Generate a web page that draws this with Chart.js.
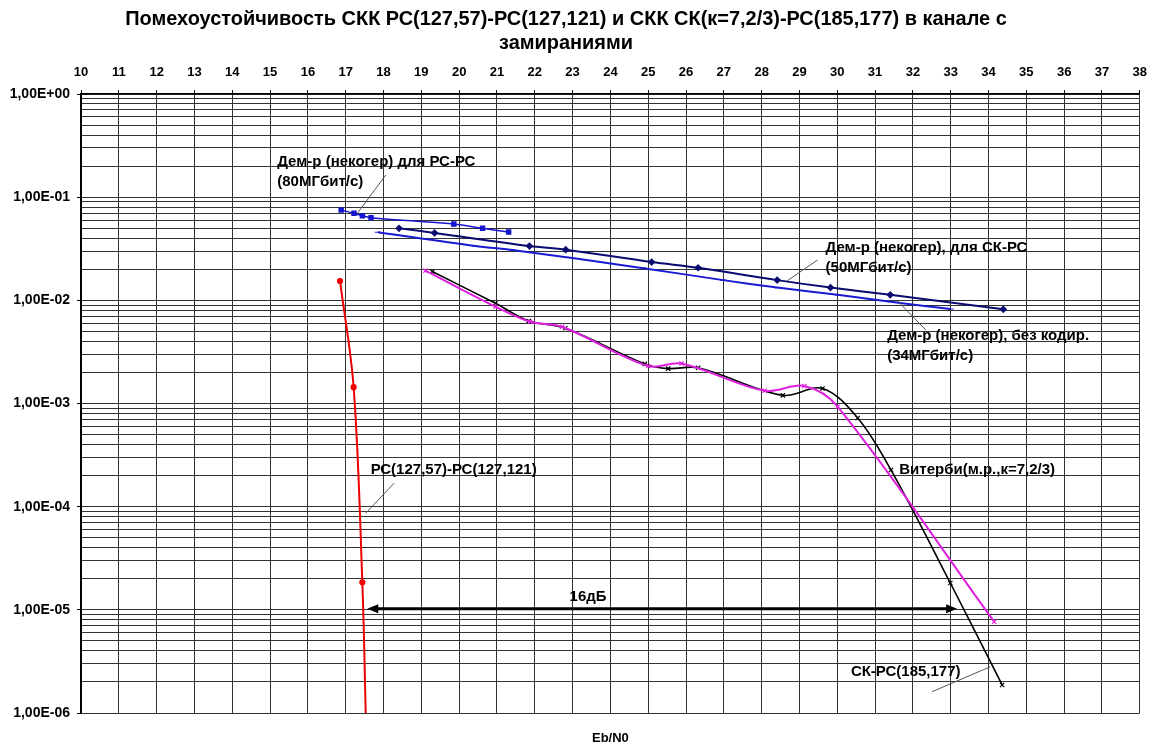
<!DOCTYPE html>
<html><head><meta charset="utf-8">
<script src="https://cdn.jsdelivr.net/npm/chart.js@4"></script>
<style>html,body{margin:0;padding:0;background:#fff}#wrap{width:1157px;height:747px;position:relative}</style>
</head><body><div id="wrap"><canvas id="c"></canvas></div>
<script>
// ---------- texts / tick labels ----------
const titleLines = ['Помехоустойчивость СКК РС(127,57)-РС(127,121) и СКК СК(к=7,2/3)-РС(185,177) в канале с', 'замираниями'];
const xAxisTitle = 'Eb/N0';
const xTickValues = [10,11,12,13,14,15,16,17,18,19,20,21,22,23,24,25,26,27,28,29,30,31,32,33,34,35,36,37,38];
const yDecades = [-6,-5,-4,-3,-2,-1,0];
const yTickLabels = ['1,00E-06','1,00E-05','1,00E-04','1,00E-03','1,00E-02','1,00E-01','1,00E+00'];

// ---------- series ----------
const rsName = 'РС(127,57)-РС(127,121)';
const rsX = [16.85, 17.21, 17.44, 17.53];
const rsY = [0.0154, 0.00144, 0.0000185, 0.000001];

const dem80Name = 'Дем-р (некогер) для РС-РС (80МГбит/с)';
const dem80X = [16.88, 17.22, 17.44, 17.67, 19.86, 20.62, 21.31];
const dem80Y = [0.0751, 0.0698, 0.0661, 0.0632, 0.0549, 0.0499, 0.0459];

const dem50Name = 'Дем-р (некогер), для СК-РС (50МГбит/с)';
const dem50X = [18.41, 19.35, 21.86, 22.82, 25.09, 26.32, 28.41, 29.82, 31.40, 34.39];
const dem50Y = [0.0499, 0.0450, 0.0336, 0.0310, 0.0235, 0.0207, 0.0157, 0.0133, 0.0113, 0.00819];

const dem34Name = 'Дем-р (некогер), без кодир. (34МГбит/с)';
const dem34X = [17.85, 20.43, 21.40, 24.87, 26.98, 28.41, 30.01, 31.51, 33.00];
const dem34Y = [0.0457, 0.0336, 0.0308, 0.0205, 0.0157, 0.0133, 0.0113, 0.00957, 0.00824];

const vitName = 'Витерби(м.р.,к=7,2/3)';
const vitX = [19.11, 20.96, 21.88, 22.72, 25.00, 25.88, 28.08, 29.13, 30.01, 34.15];
const vitY = [0.0194, 0.00868, 0.00620, 0.00555, 0.00231, 0.00244, 0.00133, 0.00148, 0.000931, 0.00000767];

const skName = 'СК-РС(185,177)';
const skX = [19.29, 20.96, 21.84, 22.81, 24.91, 25.53, 26.32, 28.56, 29.61, 30.54, 31.42, 32.99, 34.36];
const skY = [0.0190, 0.00936, 0.00631, 0.00536, 0.00242, 0.00218, 0.00222, 0.00120, 0.00140, 0.000724, 0.000227, 0.0000182, 0.00000187];

const gainLabel = '16дБ';
const gainX = [17.57, 33.17];
const gainY = 0.00001;

// ---------- helpers ----------
const FAM = '"Liberation Sans", Arial, sans-serif';
const pts = (xs, ys) => xs.map((x, i) => ({x, y: ys[i]}));
const isDecade = v => Math.abs(Math.log10(v) - Math.round(Math.log10(v))) < 1e-6;

const yTicks = [];
for (let e = -6; e < 0; e++) for (let m = 1; m <= 9; m++) yTicks.push(m * Math.pow(10, e));
yTicks.push(1);

// annotations (anchored in data units)
const notes = [
  {lines: ['Дем-р (некогер) для РС-РС', '(80МГбит/с)'], x: 15.19, y: 0.219, lead: [[18.06, 0.164], [17.31, 0.0698]]},
  {lines: ['Дем-р (некогер), для СК-РС', '(50МГбит/с)'], x: 29.69, y: 0.0322, lead: [[29.48, 0.0246], [28.68, 0.0155]]},
  {lines: ['Дем-р (некогер), без кодир.', '(34МГбит/с)'], x: 31.32, y: 0.00451, lead: [[32.34, 0.00516], [31.58, 0.0100]]},
  {lines: [vitName], x: 31.64, y: 0.000227, lead: null},
  {lines: [rsName], x: 17.66, y: 0.000227, lead: [[18.28, 0.000169], [17.53, 0.0000863]]},
  {lines: [skName], x: 30.36, y: 0.00000252, lead: [[34.05, 0.00000281], [32.51, 0.00000161]]},
  {lines: [gainLabel], x: 22.92, y: 0.0000133, lead: null}
];

const decorPlugin = {
  id: 'decor',
  afterDatasetsDraw(chart) {
    const {ctx, scales: {x, y}} = chart;
    ctx.save();
    // arrow
    const ax1 = x.getPixelForValue(gainX[0]), ax2 = x.getPixelForValue(gainX[1]), ay = y.getPixelForValue(gainY) - 1;
    ctx.strokeStyle = '#000'; ctx.fillStyle = '#000'; ctx.lineWidth = 3;
    ctx.beginPath(); ctx.moveTo(ax1 + 8, ay); ctx.lineTo(ax2 - 8, ay); ctx.stroke();
    ctx.beginPath(); ctx.moveTo(ax1, ay); ctx.lineTo(ax1 + 11, ay - 4.5); ctx.lineTo(ax1 + 11, ay + 4.5); ctx.closePath(); ctx.fill();
    ctx.beginPath(); ctx.moveTo(ax2, ay); ctx.lineTo(ax2 - 11, ay - 4.5); ctx.lineTo(ax2 - 11, ay + 4.5); ctx.closePath(); ctx.fill();
    // notes
    ctx.font = 'bold 15px ' + FAM;
    ctx.textBaseline = 'middle'; ctx.textAlign = 'left';
    for (const n of notes) {
      if (n.lead) {
        ctx.strokeStyle = '#555'; ctx.lineWidth = 1;
        ctx.beginPath();
        ctx.moveTo(x.getPixelForValue(n.lead[0][0]), y.getPixelForValue(n.lead[0][1]));
        ctx.lineTo(x.getPixelForValue(n.lead[1][0]), y.getPixelForValue(n.lead[1][1]));
        ctx.stroke();
      }
      const px = x.getPixelForValue(n.x), py = y.getPixelForValue(n.y);
      ctx.fillStyle = '#000';
      n.lines.forEach((t, i) => ctx.fillText(t, px, py + i * 20));
    }
    ctx.restore();
  },
  afterDraw(chart) {
    const {ctx, chartArea} = chart;
    ctx.save();
    ctx.fillStyle = '#000';
    ctx.textAlign = 'center'; ctx.textBaseline = 'alphabetic';
    ctx.font = 'bold 18px ' + FAM;
    const w = ctx.measureText(titleLines[0]).width;
    const fs = 18 * 882 / w;
    ctx.font = 'bold ' + fs.toFixed(2) + 'px ' + FAM;
    ctx.fillText(titleLines[0], 566, 25);
    ctx.fillText(titleLines[1], 566, 49);
    ctx.font = 'bold 13px ' + FAM;
    ctx.textBaseline = 'middle';
    ctx.fillText(xAxisTitle, (chartArea.left + chartArea.right) / 2, chartArea.bottom + 25);
    ctx.restore();
  }
};

const lineDs = (label, data, color, width, style, radius, extra) => Object.assign({
  label, data, borderColor: color, backgroundColor: color, borderWidth: width,
  pointStyle: style, pointRadius: radius, pointBorderColor: color, pointBackgroundColor: color,
  pointBorderWidth: 1.2, tension: 0.35, fill: false
}, extra || {});

new Chart(document.getElementById('c'), {
  type: 'line',
  data: {
    datasets: [
      lineDs(dem34Name, pts(dem34X, dem34Y), '#1a1ad0', 2, 'line', 3),
      lineDs(dem50Name, pts(dem50X, dem50Y), '#0a0a70', 2, 'rectRot', 3),
      lineDs(dem80Name, pts(dem80X, dem80Y), '#1515cc', 1.5, 'rect', 3),
      lineDs(vitName, pts(vitX, vitY), '#e020e0', 2, 'crossRot', 3),
      lineDs(skName, pts(skX, skY), '#000000', 1.6, 'crossRot', 3),
      lineDs(rsName, pts(rsX, rsY), '#ee0000', 2, 'circle', ctx => ctx.dataIndex === rsX.length - 1 ? 0 : 2.5)
    ]
  },
  options: {
    responsive: true, maintainAspectRatio: false, animation: false,
    devicePixelRatio: 1,
    layout: {padding: {top: 60, right: 14, bottom: 34, left: 0}},
    plugins: {legend: {display: false}, title: {display: false}, tooltip: {enabled: false}},
    scales: {
      x: {
        type: 'linear', position: 'top', min: 10, max: 38,
        afterBuildTicks: s => { s.ticks = xTickValues.map(v => ({value: v})); },
        afterFit: s => { s.height = 34; },
        ticks: {autoSkip: false, maxRotation: 0, padding: 10, color: '#000', font: {family: FAM, size: 13, weight: 'bold'}, callback: v => String(v)},
        grid: {color: '#333', lineWidth: 1, tickLength: 4, tickColor: '#000'},
        border: {color: '#000', width: 1.5}
      },
      y: {
        type: 'logarithmic', position: 'left', min: 1e-6, max: 1,
        afterBuildTicks: s => { s.ticks = yTicks.map(v => ({value: v, major: isDecade(v)})); },
        afterFit: s => { s.width = 81; },
        ticks: {
          autoSkip: false, padding: 7, color: '#000', font: {family: FAM, size: 14, weight: 'bold'},
          callback: v => isDecade(v) ? yTickLabels[yDecades.indexOf(Math.round(Math.log10(v)))] : ''
        },
        grid: {
          color: '#333', lineWidth: 1, tickLength: 4,
          tickColor: c => (c.tick && isDecade(c.tick.value)) ? '#000' : 'rgba(0,0,0,0)'
        },
        border: {color: '#000', width: 2}
      }
    }
  },
  plugins: [decorPlugin]
});
</script>
</body></html>
